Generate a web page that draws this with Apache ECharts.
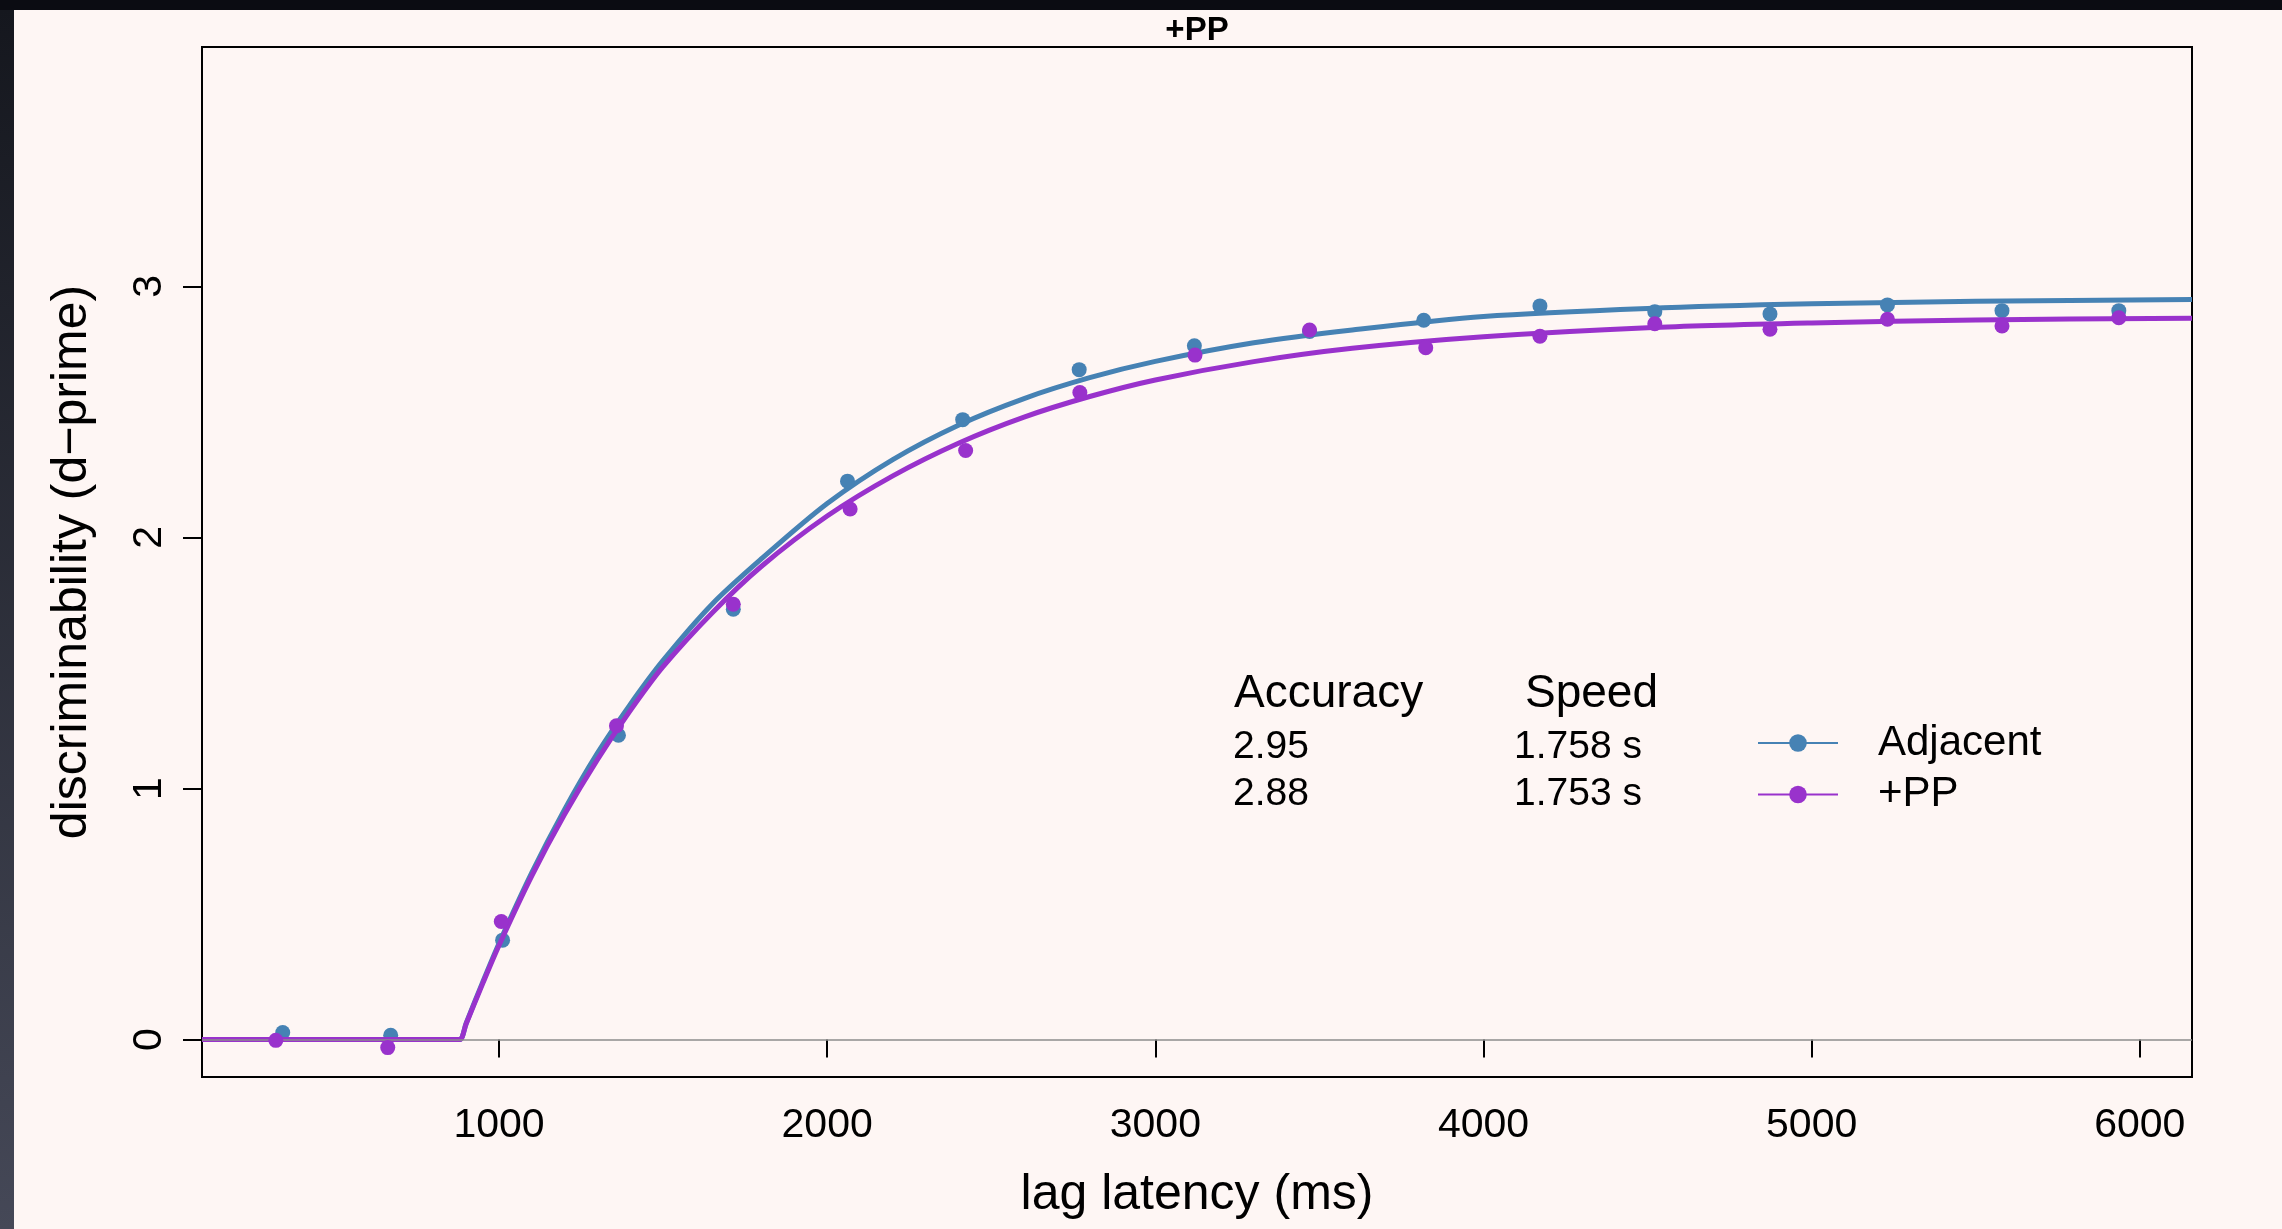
<!DOCTYPE html>
<html>
<head>
<meta charset="utf-8">
<title>+PP</title>
<script src="https://cdn.jsdelivr.net/npm/echarts@6/dist/echarts.min.js"></script>
<style>
html, body {
    margin: 0;
    padding: 0;
    width: 2282px;
    height: 1229px;
    overflow: hidden;
    background: #0b0c12;
}
.side {
    position: absolute;
    left: 0;
    top: 10px;
    width: 14px;
    height: 1219px;
    background: linear-gradient(to bottom, #15171e, #454857);
}
#chart {
    position: absolute;
    left: 14px;
    top: 10px;
    width: 2268px;
    height: 1219px;
    background: #fef6f4;
}
</style>
</head>
<body>
<div class="side"></div>
<div id="chart"></div>
<script>
// observed d-prime per lag (ms)
const adjLag = [341, 670, 1011, 1364, 1714, 2062, 2413, 2768, 3119, 3470, 3818, 4172, 4522, 4873, 5231, 5580, 5936];
const adjDprime = [0.028, 0.017, 0.396, 1.212, 1.714, 2.224, 2.469, 2.668, 2.763, 2.82, 2.865, 2.922, 2.899, 2.890, 2.926, 2.903, 2.903];
const ppLag = [320, 661, 1007, 1358, 1714, 2070, 2422, 2770, 3121, 3470, 3824, 4172, 4522, 4873, 5231, 5580, 5936];
const ppDprime = [-0.003, -0.032, 0.470, 1.250, 1.734, 2.113, 2.346, 2.577, 2.726, 2.826, 2.755, 2.801, 2.851, 2.829, 2.869, 2.842, 2.875];

// fitted curves
const fitLag = [95, 860, 881, 900, 950, 1000, 1100, 1200, 1300, 1400, 1500, 1650, 1800, 2000, 2200, 2400, 2600, 2800, 3000, 3300, 3600, 4000, 4500, 5000, 5500, 6159];
const adjFit = [0, 0, 0, 0.065, 0.228, 0.383, 0.665, 0.917, 1.141, 1.335, 1.510, 1.735, 1.915, 2.135, 2.310, 2.447, 2.553, 2.636, 2.701, 2.775, 2.826, 2.880, 2.912, 2.930, 2.940, 2.947];
const ppFit = [0, 0, 0, 0.063, 0.222, 0.375, 0.652, 0.897, 1.115, 1.310, 1.485, 1.700, 1.885, 2.085, 2.245, 2.375, 2.479, 2.561, 2.627, 2.700, 2.753, 2.799, 2.835, 2.854, 2.866, 2.873];

const seriesNames = ['Adjacent', '+PP'];
const accuracy = ['2.95', '2.88'];
const speed = ['1.758 s', '1.753 s'];
const xTicks = [1000, 2000, 3000, 4000, 5000, 6000];
const yTicks = [0, 1, 2, 3];

const colors = ['#4682b4', '#9932cc'];
const FONT = '"Liberation Sans", Arial, Helvetica, sans-serif';

function pairs(xs, ys) {
    return xs.map((x, i) => [x, ys[i]]);
}

function getOption() {
    const lags = [adjLag, ppLag];
    const dprimes = [adjDprime, ppDprime];
    const fits = [adjFit, ppFit];
    const series = [];

    seriesNames.forEach((name, i) => {
        series.push({
            name: name,
            type: 'line',
            data: pairs(fitLag, fits[i]),
            smooth: 0.3,
            showSymbol: false,
            symbol: 'circle',
            color: colors[i],
            lineStyle: { width: 5, color: colors[i] },
            silent: true,
            z: 2 + i * 2,
            markLine: i === 0 ? {
                silent: true,
                symbol: 'none',
                label: { show: false },
                lineStyle: { color: '#8c8c8c', width: 1.5, type: 'solid' },
                data: [{ yAxis: 0 }]
            } : undefined
        });
        series.push({
            name: name,
            type: 'scatter',
            data: pairs(lags[i], dprimes[i]),
            symbol: 'circle',
            symbolSize: 15,
            itemStyle: { color: colors[i], opacity: 1 },
            z: 3 + i * 2
        });
    });

    const texts = [
        { type: 'text', x: 1220, y: 684, style: { text: 'Accuracy', font: '46px ' + FONT, fill: '#000', verticalAlign: 'middle' } },
        { type: 'text', x: 1511, y: 684, style: { text: 'Speed', font: '46px ' + FONT, fill: '#000', verticalAlign: 'middle' } }
    ];
    const rowY = [737, 784.5];
    accuracy.forEach((a, i) => {
        texts.push({ type: 'text', x: 1219, y: rowY[i], style: { text: a, font: '39px ' + FONT, fill: '#000', verticalAlign: 'middle' } });
        texts.push({ type: 'text', x: 1500, y: rowY[i], style: { text: speed[i], font: '39px ' + FONT, fill: '#000', verticalAlign: 'middle' } });
    });

    return {
        animation: false,
        backgroundColor: '#fef6f4',
        textStyle: { fontFamily: FONT },
        title: {
            text: '+PP',
            left: 1183,
            top: 4,
            textAlign: 'center',
            padding: 0,
            textStyle: { fontSize: 33, fontWeight: 'bold', color: '#000', fontFamily: FONT }
        },
        legend: {
            data: seriesNames,
            orient: 'vertical',
            left: 1743,
            top: 712,
            padding: 0,
            itemGap: 9.5,
            itemWidth: 80,
            itemHeight: 22,
            lineStyle: { width: 2 },
            textStyle: { fontSize: 42, color: '#000', fontFamily: FONT, padding: [0, 0, 0, 35] }
        },
        grid: {
            show: true,
            left: 188,
            top: 37,
            right: 90,
            bottom: 152,
            borderColor: '#000',
            borderWidth: 2,
            backgroundColor: 'transparent'
        },
        xAxis: {
            type: 'value',
            min: 95,
            max: 6159,
            name: 'lag latency (ms)',
            nameLocation: 'middle',
            nameGap: 93,
            nameTextStyle: { fontSize: 50, color: '#000', fontFamily: FONT },
            axisLine: { show: false },
            axisTick: {
                show: true,
                length: 18,
                customValues: xTicks,
                lineStyle: { color: '#000', width: 2 }
            },
            axisLabel: {
                customValues: xTicks,
                formatter: v => String(v),
                margin: 28,
                fontSize: 41,
                color: '#000',
                fontFamily: FONT
            },
            splitLine: { show: false }
        },
        yAxis: {
            type: 'value',
            min: -0.149,
            max: 3.953,
            name: 'discriminability (d\u2212prime)',
            nameLocation: 'middle',
            nameGap: 105,
            nameTextStyle: { fontSize: 50, color: '#000', fontFamily: FONT },
            axisLine: { show: false },
            axisTick: {
                show: true,
                length: 19,
                customValues: yTicks,
                lineStyle: { color: '#000', width: 2 }
            },
            axisLabel: {
                customValues: yTicks,
                formatter: v => String(v),
                rotate: 90,
                margin: 32,
                fontSize: 41,
                color: '#000',
                fontFamily: FONT
            },
            splitLine: { show: false }
        },
        graphic: texts,
        series: series
    };
}

const chart = echarts.init(document.getElementById('chart'));
chart.setOption(getOption());
</script>
</body>
</html>
